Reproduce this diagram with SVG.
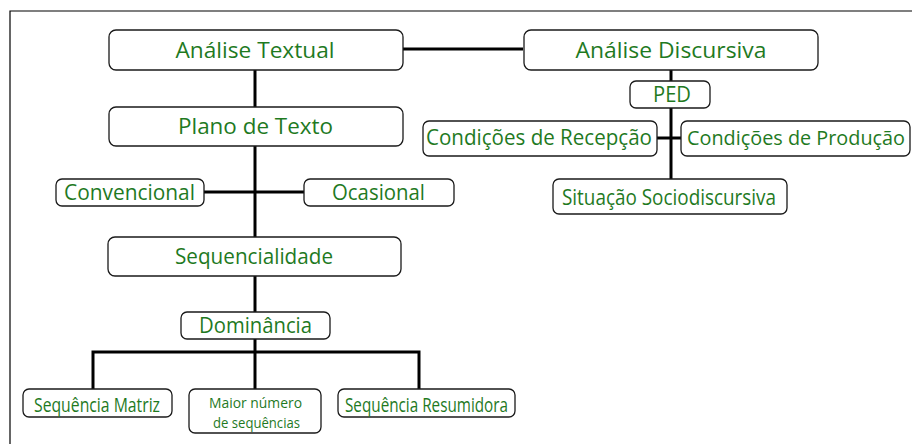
<svg xmlns="http://www.w3.org/2000/svg" width="912" height="444" viewBox="0 0 912 444">
<style>
.box{fill:#fff;stroke:#1a1a1a;stroke-width:1.3}
.t{font-family:"Open Sans","Liberation Sans",sans-serif;fill:#1f7a1f;text-anchor:middle}
.c{stroke:#000;stroke-width:3;fill:none}
</style>
<rect width="912" height="444" fill="#fff"/>
<path d="M10 444 V11 H912" fill="none" stroke="#000" stroke-width="1.2"/>
<g id="connectors">
<path class="c" d="M403 49 H523"/>
<path class="c" d="M255 70 V107"/>
<path class="c" d="M255 146 V237"/>
<path class="c" d="M204 192 H304"/>
<path class="c" d="M255 276 V312"/>
<path class="c" d="M255 339 V389"/>
<path class="c" d="M93 389 V352 H419 V389"/>
<path class="c" d="M671 70 V81"/>
<path class="c" d="M671 108 V179"/>
<path class="c" d="M657 138 H681"/>
</g>
<g id="analise-textual"><rect class="box" x="109" y="30" width="294" height="40" rx="7"/><text class="t" x="255" y="57.5" font-size="22" textLength="159" lengthAdjust="spacingAndGlyphs">Análise Textual</text></g>
<g id="analise-discursiva"><rect class="box" x="524" y="30" width="294" height="40" rx="7"/><text class="t" x="671" y="57.5" font-size="22" textLength="191" lengthAdjust="spacingAndGlyphs">Análise Discursiva</text></g>
<g id="ped"><rect class="box" x="630" y="81" width="80" height="27" rx="6"/><text class="t" x="672" y="101.5" font-size="21" textLength="38" lengthAdjust="spacingAndGlyphs">PED</text></g>
<g id="cond-recepcao"><rect class="box" x="423" y="121" width="234" height="35" rx="6"/><text class="t" x="539" y="144.5" font-size="21" textLength="226" lengthAdjust="spacingAndGlyphs">Condições de Recepção</text></g>
<g id="cond-producao"><rect class="box" x="681" y="121" width="229" height="35" rx="6"/><text class="t" x="796" y="144.5" font-size="20.5" textLength="218" lengthAdjust="spacingAndGlyphs">Condições de Produção</text></g>
<g id="situacao"><rect class="box" x="553" y="179" width="234" height="35" rx="6"/><text class="t" x="669" y="205" font-size="21" textLength="214" lengthAdjust="spacingAndGlyphs">Situação Sociodiscursiva</text></g>
<g id="plano-texto"><rect class="box" x="109" y="107" width="294" height="39" rx="7"/><text class="t" x="255.5" y="133.5" font-size="22" textLength="155" lengthAdjust="spacingAndGlyphs">Plano de Texto</text></g>
<g id="convencional"><rect class="box" x="56" y="179" width="148" height="27" rx="6"/><text class="t" x="129.5" y="199.5" font-size="21" textLength="131" lengthAdjust="spacingAndGlyphs">Convencional</text></g>
<g id="ocasional"><rect class="box" x="304" y="179" width="150" height="27" rx="6"/><text class="t" x="378.5" y="199.5" font-size="21" textLength="93" lengthAdjust="spacingAndGlyphs">Ocasional</text></g>
<g id="sequencialidade"><rect class="box" x="108" y="237" width="293" height="39" rx="7"/><text class="t" x="254" y="263.5" font-size="22" textLength="158" lengthAdjust="spacingAndGlyphs">Sequencialidade</text></g>
<g id="dominancia"><rect class="box" x="181" y="312" width="149" height="27" rx="6"/><text class="t" x="255.5" y="332.5" font-size="22" textLength="113" lengthAdjust="spacingAndGlyphs">Dominância</text></g>
<g id="seq-matriz"><rect class="box" x="23" y="389" width="149" height="28" rx="6"/><text class="t" x="97" y="411.5" font-size="20" textLength="126" lengthAdjust="spacingAndGlyphs">Sequência Matriz</text></g>
<g id="maior-numero"><rect class="box" x="189" y="389" width="132" height="44" rx="6"/><text class="t" font-size="14.5"><tspan x="255.5" y="408" textLength="93" lengthAdjust="spacingAndGlyphs">Maior número</tspan><tspan x="256.5" y="428" textLength="87" lengthAdjust="spacingAndGlyphs">de sequências</tspan></text></g>
<g id="seq-resumidora"><rect class="box" x="338" y="389" width="177" height="28" rx="6"/><text class="t" x="426.5" y="411.5" font-size="20" textLength="163" lengthAdjust="spacingAndGlyphs">Sequência Resumidora</text></g>
</svg>
